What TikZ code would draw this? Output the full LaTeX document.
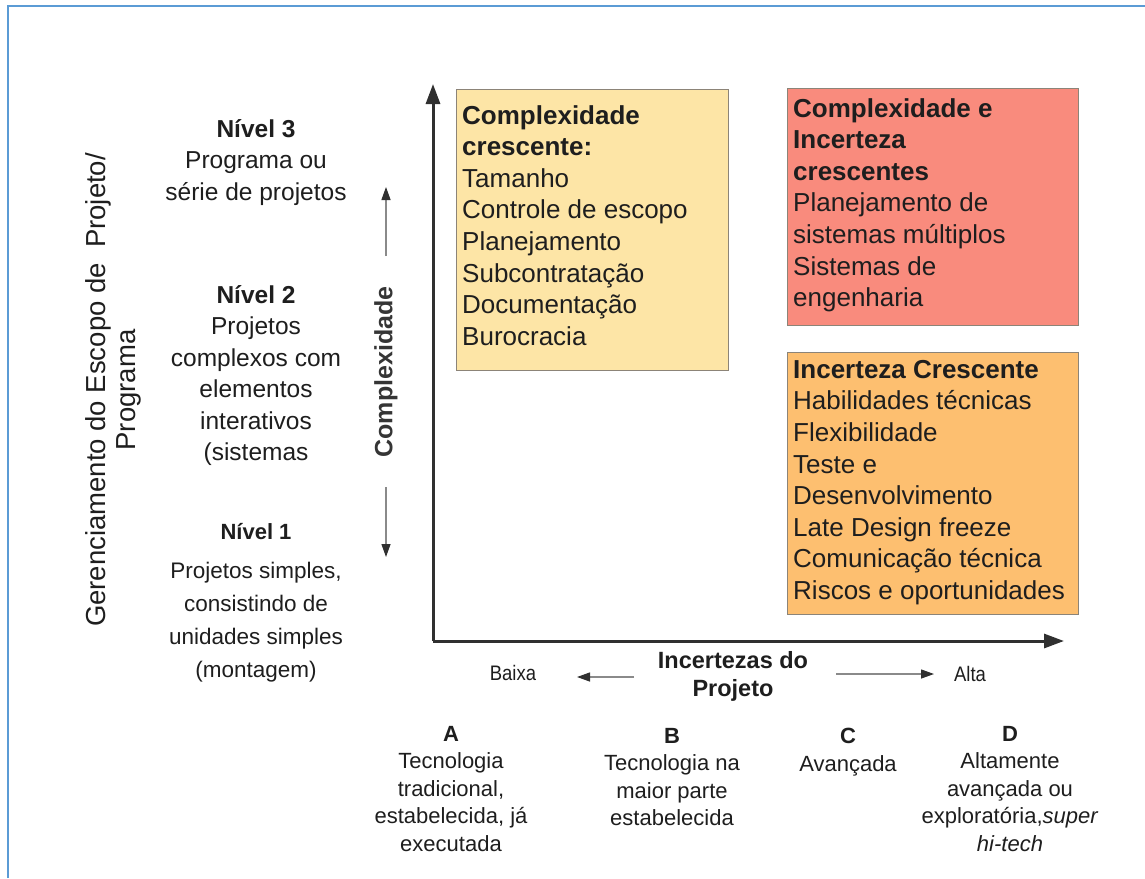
\documentclass[tikz,border=0pt]{standalone}
\usepackage{fontspec}
\setmainfont{Liberation Sans}
\newfontfamily\narrowsf[FakeStretch=0.88]{Liberation Sans}
\usetikzlibrary{arrows.meta}
\definecolor{frameblue}{HTML}{5B9BD5}
\definecolor{axisgray}{HTML}{303030}
\definecolor{hintgray}{HTML}{8A8A8A}
\definecolor{yellowfill}{HTML}{FDE5A6}
\definecolor{redfill}{HTML}{F98B7D}
\definecolor{orangefill}{HTML}{FDBF70}
\definecolor{boxedge}{HTML}{8C8478}
\definecolor{txt}{HTML}{1E1E1E}
\begin{document}
\begin{tikzpicture}[x=1pt,y=-1pt,
  every node/.style={inner sep=0pt, text=txt},
  axis/.style={draw=axisgray, line width=3pt, -{Triangle[length=20pt,width=14pt]}},
  hint/.style={draw=hintgray, line width=1.3pt, -{Triangle[length=13pt,width=9pt,color=axisgray]}},
  quad/.style={draw=boxedge, line width=1.2pt, anchor=north west},
  boxtext/.style={anchor=north west, align=left, font=\fontsize{26}{31.6}\selectfont},
  level/.style={anchor=north, align=center, font=\fontsize{24.5}{31.5}\selectfont},
  lowlevel/.style={anchor=north, align=center, font=\fontsize{22.5}{33}\selectfont},
  tech/.style={anchor=north, align=center, font=\fontsize{22}{27.5}\selectfont}
]
\useasboundingbox (0,0) rectangle (1145,878);
\fill[white] (0,0) rectangle (1145,878);

% frame lines along the top and left edges
\coordinate (ftl) at (8,6);
\coordinate (ftr) at (1145,6);
\coordinate (fbl) at (8,878);
\draw[frameblue, line width=2.5pt] (fbl) -- (ftl) -- (ftr);

% axes
\coordinate (O) at (433,641);
\coordinate (ytop) at (433,84);
\coordinate (xend) at (1064,641);
\draw[axis] (O) -- (ytop);
\draw[axis] (O) -- (xend);

% quadrant boxes
\node (yellowbox) [quad, fill=yellowfill, minimum width=272pt, minimum height=281pt] at (456,89) {};
\node (redbox) [quad, fill=redfill, minimum width=291pt, minimum height=237pt] at (787,88) {};
\node (orangebox) [quad, fill=orangefill, minimum width=291pt, minimum height=262pt] at (787,352) {};

\node (yellowtxt) [boxtext] at (462,105) {\textbf{Complexidade}\\\textbf{crescente:}\\Tamanho\\Controle de escopo\\Planejamento\\Subcontratação\\Documentação\\Burocracia};
\node (redtxt) [boxtext] at (793,98) {\textbf{Complexidade e}\\\textbf{Incerteza}\\\textbf{crescentes}\\Planejamento de\\sistemas múltiplos\\Sistemas de\\engenharia};
\node (orangetxt) [boxtext] at (793,360) {\textbf{Incerteza Crescente}\\Habilidades técnicas\\Flexibilidade\\Teste e\\Desenvolvimento\\Late Design freeze\\Comunicação técnica\\Riscos e oportunidades};

% vertical title
\node (scope) [rotate=90, align=center, font=\fontsize{27.5}{30}\selectfont] at (113,390) {Gerenciamento do Escopo de\ \ Projeto/\\Programa};

% complexity levels
\node (lvl3) [level] at (256,119) {\textbf{Nível 3}\\Programa ou\\série de projetos};
\node (lvl2) [level] at (256,285) {\textbf{Nível 2}\\Projetos\\complexos com\\elementos\\interativos\\(sistemas};
\node (lvl1t) [anchor=north, font=\bfseries\fontsize{22}{26}\selectfont] at (256,523) {Nível 1};
\node (lvl1) [lowlevel] at (256,562) {Projetos simples,\\consistindo de\\unidades simples\\(montagem)};

% complexity label with its arrows
\node (cplx) [rotate=90, font=\bfseries\fontsize{25}{28}\selectfont, text=txt!90] at (386,372) {Complexidade};
\coordinate (cup0) at (386,256);
\coordinate (cup1) at (386,187);
\coordinate (cdn0) at (386,487);
\coordinate (cdn1) at (386,557);
\draw[hint] (cup0) -- (cup1);
\draw[hint] (cdn0) -- (cdn1);

% uncertainty label with its arrows
\node (unc) [anchor=north, align=center, font=\bfseries\fontsize{23.5}{28}\selectfont] at (733,651) {Incertezas do\\Projeto};
\node (low) [font=\narrowsf\fontsize{21}{24}\selectfont] at (513,673) {Baixa};
\node (high) [font=\narrowsf\fontsize{21}{24}\selectfont] at (970,674) {Alta};
\coordinate (ul0) at (634,677);
\coordinate (ul1) at (577,677);
\coordinate (ur0) at (836,674);
\coordinate (ur1) at (934,674);
\draw[hint] (ul0) -- (ul1);
\draw[hint] (ur0) -- (ur1);

% technology classes
\node (catA) [tech] at (451,726) {\textbf{A}\\Tecnologia\\tradicional,\\estabelecida, já\\executada};
\node (catB) [tech] at (672,728) {\textbf{B}\\Tecnologia na\\maior parte\\estabelecida};
\node (catC) [tech] at (848,728) {\textbf{C}\\Avançada};
\node (catD) [tech] at (1010,726) {\textbf{D}\\Altamente\\avançada ou\\exploratória,\textit{super}\\\textit{hi-tech}};
\end{tikzpicture}
\end{document}
